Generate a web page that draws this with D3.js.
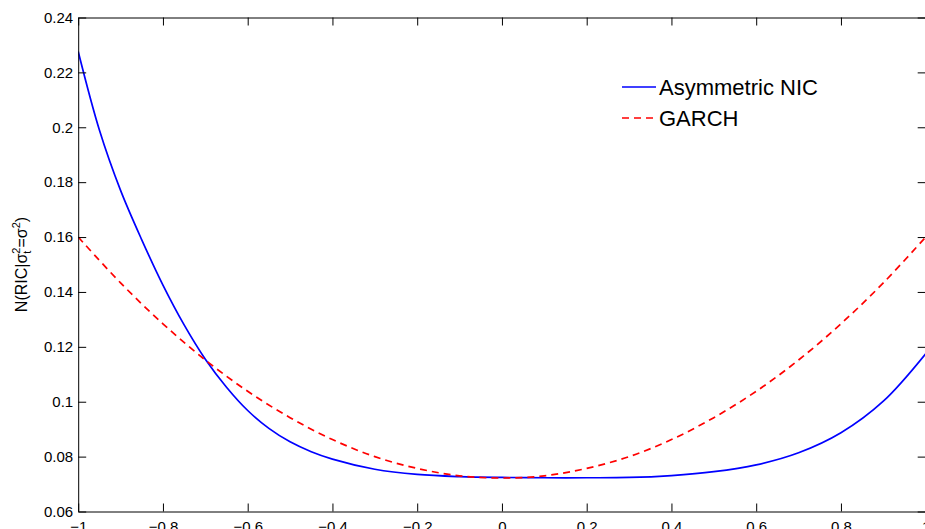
<!DOCTYPE html>
<html>
  <head>
    <meta charset="utf-8" />
    <style>
      body {
        margin: 0;
        background: #fff;
      }
      svg {
        display: block;
        font-family: "Liberation Sans", Arial, sans-serif;
      }
      .axis path,
      .axis line {
        stroke: #000;
        stroke-width: 1;
      }
      .axis text {
        font-size: 15px;
        fill: #000;
      }
    </style>
  </head>
  <body>
    <svg></svg>

    <script src="https://cdn.jsdelivr.net/npm/d3@7"></script>
    <script>
      let width = 925,
        height = 529;

      // values
      let xTicks = [-1, -0.8, -0.6, -0.4, -0.2, 0, 0.2, 0.4, 0.6, 0.8, 1];
      let yTicks = [0.06, 0.08, 0.1, 0.12, 0.14, 0.16, 0.18, 0.2, 0.22, 0.24];

      let nicX = [-1, -0.95, -0.9, -0.85, -0.8, -0.75, -0.7, -0.65, -0.6, -0.55, -0.5,
        -0.45, -0.4, -0.3, -0.2, -0.1, 0, 0.1, 0.2, 0.3, 0.4, 0.5, 0.6, 0.7, 0.8, 0.9, 1];
      let nicY = [0.2276, 0.199, 0.177, 0.159, 0.1425, 0.128, 0.1155, 0.1053, 0.0968,
        0.0903, 0.0854, 0.0818, 0.0791, 0.0754, 0.0735, 0.0727, 0.0724, 0.0723, 0.0723,
        0.0724, 0.0731, 0.0745, 0.077, 0.0814, 0.0887, 0.1002, 0.1175];

      let garchX = [-1, -0.9, -0.8, -0.7, -0.6, -0.5, -0.4, -0.3, -0.2, -0.1, 0,
        0.1, 0.2, 0.3, 0.4, 0.5, 0.6, 0.7, 0.8, 0.9, 1];
      let garchY = [0.16, 0.1433, 0.1284, 0.1152, 0.1038, 0.0942, 0.0862, 0.08,
        0.0757, 0.073, 0.0722, 0.073, 0.0757, 0.08, 0.0862, 0.0942, 0.1038,
        0.1152, 0.1284, 0.1433, 0.16];

      let series = [
        { name: "Asymmetric NIC", xs: nicX, ys: nicY, color: "#0000ff", dash: null },
        { name: "GARCH", xs: garchX, ys: garchY, color: "#ff0000", dash: "7,5" },
      ];

      let plotLeft = 78.2,
        plotRight = 925.7,
        plotTop = 17.5,
        plotBottom = 511.5;

      let svg = d3.select("svg").attr("width", width).attr("height", height);

      let x = d3.scaleLinear().domain([-1, 1]).range([plotLeft, plotRight]);
      let y = d3.scaleLinear().domain([0.06, 0.24]).range([plotBottom, plotTop]);
      let fmt = d3.format("");

      svg
        .append("rect")
        .attr("width", width)
        .attr("height", height)
        .attr("fill", "#fff");

      svg
        .append("defs")
        .append("clipPath")
        .attr("id", "plotClip")
        .append("rect")
        .attr("x", plotLeft)
        .attr("y", plotTop)
        .attr("width", plotRight - plotLeft)
        .attr("height", plotBottom - plotTop);

      // lines
      let line = d3
        .line()
        .curve(d3.curveCatmullRom.alpha(0.5))
        .x((d) => x(d[0]))
        .y((d) => y(d[1]));

      svg
        .append("g")
        .attr("clip-path", "url(#plotClip)")
        .selectAll("path")
        .data(series)
        .enter()
        .append("path")
        .attr("d", (s) => line(s.xs.map((v, i) => [v, s.ys[i]])))
        .attr("fill", "none")
        .attr("stroke", (s) => s.color)
        .attr("stroke-width", 1.7)
        .attr("stroke-dasharray", (s) => s.dash);

      // axes, ticks pointing inward like matlab
      svg
        .append("g")
        .attr("class", "axis")
        .attr("transform", "translate(0," + plotBottom + ")")
        .call(d3.axisBottom(x).tickValues(xTicks).tickFormat(fmt).tickSizeInner(-8).tickSizeOuter(0).tickPadding(10));
      svg
        .append("g")
        .attr("class", "axis")
        .attr("transform", "translate(0," + plotTop + ")")
        .call(d3.axisTop(x).tickValues(xTicks).tickFormat("").tickSizeInner(-8).tickSizeOuter(0));
      svg
        .append("g")
        .attr("class", "axis")
        .attr("transform", "translate(" + plotLeft + ",0)")
        .call(d3.axisLeft(y).tickValues(yTicks).tickFormat(fmt).tickSizeInner(-8).tickSizeOuter(0).tickPadding(5));
      svg
        .append("g")
        .attr("class", "axis")
        .attr("transform", "translate(" + plotRight + ",0)")
        .call(d3.axisRight(y).tickValues(yTicks).tickFormat("").tickSizeInner(-8).tickSizeOuter(0));

      svg.selectAll(".axis").attr("font-family", null).attr("font-size", null);

      // y label  N(RIC|σ_t^2=σ^2)
      let ylab = svg
        .append("text")
        .attr("transform", "translate(27," + (plotTop + plotBottom) / 2 + ") rotate(-90)")
        .attr("text-anchor", "middle")
        .attr("font-size", 16)
        .attr("fill", "#000");
      ylab.append("tspan").text("N(RIC|σ");
      ylab.append("tspan").attr("font-size", 11).attr("dy", 4).text("t");
      ylab.append("tspan").attr("font-size", 11).attr("dx", -3).attr("dy", -11).text("2");
      ylab.append("tspan").attr("dy", 7).text("=σ");
      ylab.append("tspan").attr("font-size", 11).attr("dy", -7).text("2");
      ylab.append("tspan").attr("dy", 7).text(")");

      // legend
      let legend = svg
        .append("g")
        .selectAll("g")
        .data(series)
        .enter()
        .append("g")
        .attr("transform", (d, i) => "translate(622," + (87 + i * 31) + ")");
      legend
        .append("line")
        .attr("x1", 0)
        .attr("x2", 34)
        .attr("stroke", (d) => d.color)
        .attr("stroke-width", 1.7)
        .attr("stroke-dasharray", (d) => d.dash);
      legend
        .append("text")
        .attr("x", 37)
        .attr("dy", "0.36em")
        .attr("font-size", 22)
        .attr("fill", "#000")
        .text((d) => d.name);
    </script>
  </body>
</html>
